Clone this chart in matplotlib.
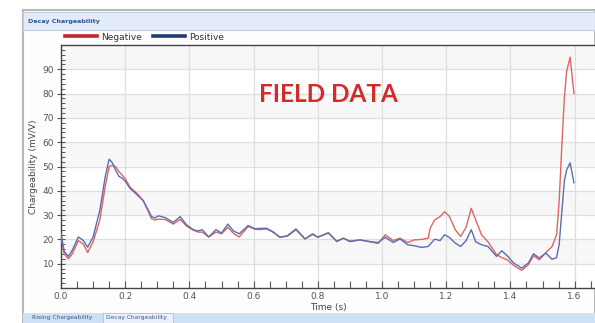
import numpy as np
import matplotlib
matplotlib.use("Agg")
import matplotlib.pyplot as plt
from matplotlib.lines import Line2D
from matplotlib.patches import Rectangle

# decay chargeability readings, time in seconds, values in mV/V
time_s = [0.0, 0.01, 0.023, 0.035, 0.054, 0.07, 0.083, 0.1, 0.121, 0.138,
          0.15, 0.16, 0.17, 0.18, 0.19, 0.2, 0.215, 0.236, 0.256, 0.27,
          0.282, 0.293, 0.303, 0.324, 0.35, 0.371, 0.391, 0.412, 0.427, 0.44,
          0.46, 0.483, 0.5, 0.52, 0.537, 0.555, 0.583, 0.604, 0.62, 0.64,
          0.66, 0.682, 0.705, 0.732, 0.76, 0.784, 0.8, 0.833, 0.859, 0.88,
          0.9, 0.931, 0.963, 0.988, 1.01, 1.035, 1.056, 1.08, 1.1, 1.124,
          1.144, 1.15, 1.164, 1.181, 1.195, 1.21, 1.228, 1.245, 1.262, 1.278,
          1.292, 1.31, 1.33, 1.357, 1.373, 1.39, 1.41, 1.435, 1.456, 1.472,
          1.49, 1.51, 1.53, 1.544, 1.552, 1.56, 1.568, 1.575, 1.586, 1.598]

negative = [21.5, 14, 12, 14, 19.5, 18, 14.6, 19, 28, 42,
            50, 50.5, 50, 48, 46.5, 45, 41.5, 39, 36, 32,
            28.5, 28, 28.3, 28.2, 26.3, 28.3, 25.5, 23.8, 23, 23,
            21, 23, 22.3, 25, 22.5, 21, 25.3, 24.2, 24, 24.3,
            23, 20.9, 21.3, 24, 20.2, 22, 20.9, 22.8, 19.3, 20.5,
            19.3, 19.8, 19, 18.3, 21.9, 19.5, 20.5, 18.7, 19.8, 20,
            20.5, 24.6, 28, 29.4, 31.4, 29.5, 24, 21.2, 25, 32.8,
            28, 21.9, 19, 13.7, 12.5, 11.6, 9.3, 7.3, 9.6, 13.3,
            11.6, 14.5, 17.1, 22, 36, 58, 78, 89, 95, 80]

positive = [22.5, 15, 13, 15.5, 21, 19.5, 16.8, 21, 32, 46,
            53, 51.5, 48.5, 46, 45.2, 44, 41, 38.5, 36, 32.5,
            29.4, 28.8, 29.7, 29, 27, 29.4, 26, 24, 23.5, 24,
            21, 24, 22.6, 26.3, 23.5, 22.3, 25.7, 24.4, 24.5, 24.6,
            23.2, 20.9, 21.5, 24.3, 20.2, 22.3, 20.9, 22.6, 19.1, 20.5,
            19.1, 19.8, 19.1, 18.7, 20.9, 18.7, 20.2, 17.8, 17.4, 16.7,
            17.1, 18, 20.1, 19.5, 21.9, 20.8, 18.5, 17.1, 19.5, 24,
            19, 17.8, 17.1, 13, 15.3, 13.3, 10.3, 8.2, 10.3, 14.1,
            12.3, 14.4, 11.8, 12.5, 18, 31, 44, 48.5, 51.5, 43.3]

x_labels = [0.0, 0.2, 0.4, 0.6, 0.8, 1.0, 1.2, 1.4, 1.6]
y_labels = [10, 20, 30, 40, 50, 60, 70, 80, 90]

W, H = 595, 323
fig = plt.figure(figsize=(W / 100, H / 100), dpi=100)
fig.patch.set_facecolor("white")

def fx(px):
    return px / W

def fy(py):
    return 1 - py / H

# window frame: border, title bar, tab strip (kept behind the axes)
def panel(x0, y_bottom, w, h, **kw):
    fig.add_artist(Rectangle((fx(x0), fy(y_bottom)), w / W, h / H,
                             transform=fig.transFigure, zorder=-5, **kw))

panel(23, 323, W - 23, 313, facecolor="#fdfdfd", edgecolor="#b8b8b8", lw=1.5)
panel(23, 30, W - 23, 18, facecolor="#e2ebf7", edgecolor="#c5cde0", lw=0.8)
panel(23, 323, W - 23, 10, facecolor="#cde0f5", edgecolor="none")
panel(103, 323, 70, 10, facecolor="#e8f1fb", edgecolor="#b0c4dc", lw=0.6)

fig.text(fx(28), fy(21), "Decay Chargeability", fontsize=4.6,
         fontweight="bold", color="#2f5597", va="center")
fig.text(fx(32), fy(318), "Rising Chargeability", fontsize=4.3,
         color="#445577", va="center")
fig.text(fx(106), fy(318), "Decay Chargeability", fontsize=4.3,
         color="#445577", va="center")

ax = fig.add_axes([fx(61), fy(288), fx(W - 61), (288 - 45) / H])
ax.set_facecolor("white")

# alternating light bands between the horizontal grid lines
for lo in range(10, 100, 20):
    ax.axhspan(lo, lo + 10, color="#f7f7f7", zorder=0, lw=0)

ax.plot(time_s, negative, color="#e06464", lw=1.0, zorder=3)
ax.plot(time_s, positive, color="#5a6eb0", lw=1.0, zorder=3)

ax.set_xlim(0, (W - 61) / 321)
ax.set_ylim(0, 100)

ax.set_xticks(x_labels)
ax.set_xticklabels([f"{v:.1f}" for v in x_labels])
ax.set_xticks(np.arange(0, 1.66, 0.05), minor=True)
ax.set_yticks(y_labels)
ax.set_yticks(np.arange(0, 100, 2), minor=True)

ax.grid(True, which="major", color="#dedede", lw=0.9, zorder=1)
ax.set_axisbelow(True)

ax.tick_params(axis="x", which="both", direction="in", length=5,
               width=0.8, color="#555555", labelsize=6.5,
               labelcolor="#555555", pad=3)
ax.tick_params(axis="y", which="major", direction="inout", length=6,
               width=0.8, color="#555555", labelsize=6.5,
               labelcolor="#555555", pad=2)
ax.tick_params(axis="y", which="minor", direction="in", length=3,
               width=0.7, color="#555555")

for side in ["top", "left", "bottom"]:
    ax.spines[side].set_color("#444444")
    ax.spines[side].set_linewidth(1.0)
ax.spines["right"].set_visible(False)

ax.set_xlabel("Time (s)", fontsize=6.5, color="#444444", labelpad=1)
ax.set_ylabel("Chargeability (mV/V)", fontsize=6.5, color="#444444",
              labelpad=3)

ax.text(0.5, 0.797, "FIELD DATA", transform=ax.transAxes, ha="center",
        va="center", fontsize=17.5, fontweight="bold", color="#d42a2a",
        family="Lato")

handles = [Line2D([], [], color="#c3272c", lw=2.6),
           Line2D([], [], color="#1f3b78", lw=2.6)]
fig.legend(handles, ["Negative", "Positive"], loc="center left",
           bbox_to_anchor=(fx(57), fy(37)), ncol=2, frameon=False,
           fontsize=6.5, handlelength=3.5, handletextpad=0.5,
           columnspacing=1.2, labelcolor="#333333")

fig.savefig("out.png", dpi=100)
